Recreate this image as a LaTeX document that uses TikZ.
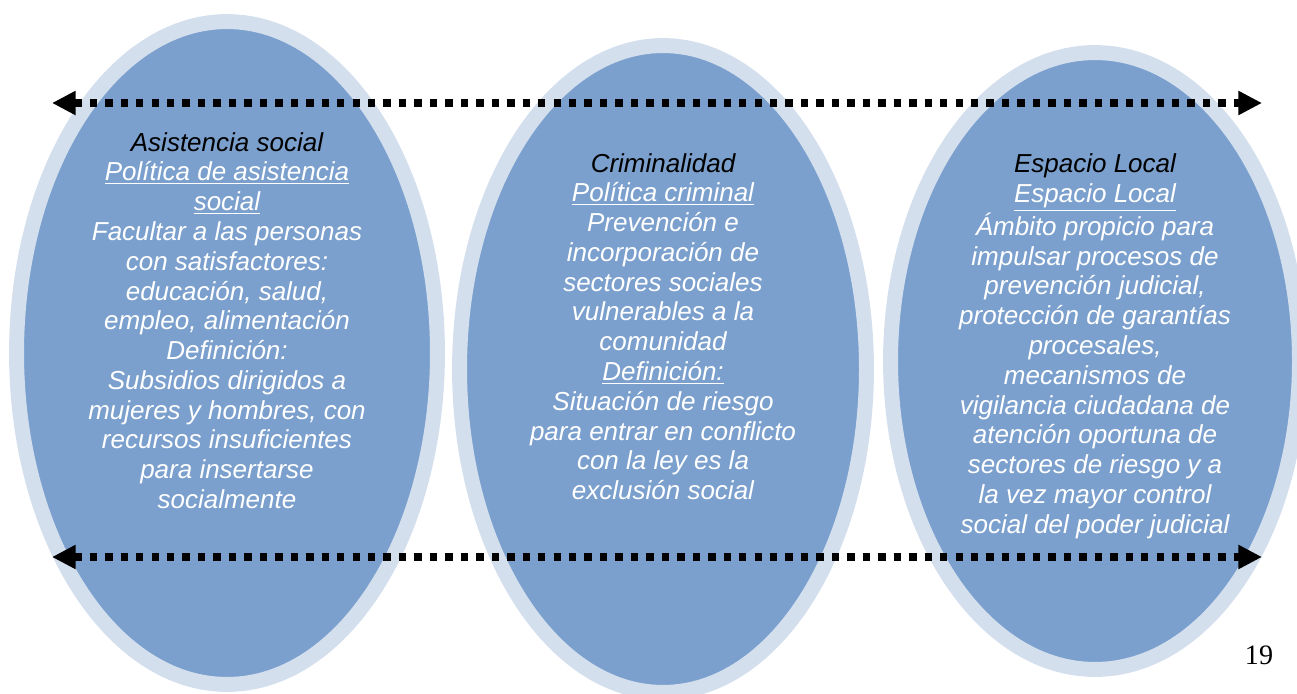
\documentclass[tikz,border=0pt]{standalone}
\usepackage{fontspec}
\setmainfont{Liberation Sans}
\newfontfamily\pagefont{Liberation Serif}
\usetikzlibrary{arrows.meta,shapes.geometric,positioning}
\definecolor{ovalfill}{RGB}{123,160,205}
\definecolor{ovalrim}{RGB}{212,223,238}
\newcommand\ulin[1]{\underline{#1}}
\tikzset{
  oval/.style={ellipse,draw=ovalrim,fill=ovalfill,line width=8.5pt,inner sep=0pt},
  ovaltext/.style={align=center,text=white,font=\fontsize{14.8}{16.95}\selectfont\itshape},
  dotline/.style={{Triangle[length=13.5pt,width=13pt]}-{Triangle[length=13.5pt,width=13pt]},
    line width=4.2pt,dash pattern=on 4.2pt off 4.6pt}
}
\begin{document}
\begin{tikzpicture}[x=0.02cm,y=-0.02cm]
	\useasboundingbox (0,0) rectangle (1297,693);
	
	\node[oval,minimum width=8.42cm,minimum height=13.26cm] (A) at (227,353) {};
	\node[oval,minimum width=8.14cm,minimum height=12.94cm] (C) at (663,369) {};
	\node[oval,minimum width=8.18cm,minimum height=12.34cm] (E) at (1095,361) {};
	
	\node[ovaltext] (At) at ([yshift=0.65cm]A.center) {{\color{black}Asistencia social}\\
		\ulin{Política de asistencia}\\ \ulin{social}\\
		Facultar a las personas\\ con satisfactores:\\ educación, salud,\\
		empleo, alimentación\\ Definición:\\ Subsidios dirigidos a\\
		mujeres y hombres, con\\ recursos insuficientes\\ para insertarse\\ socialmente};
	\node[ovaltext] (Ct) at ([yshift=0.85cm]C.center) {{\color{black}Criminalidad}\\
		\ulin{Política criminal}\\ Prevención e\\ incorporación de\\
		sectores sociales\\ vulnerables a la\\ comunidad\\ \ulin{Definición:}\\
		Situación de riesgo\\ para entrar en conflicto\\ con la ley es la\\ exclusión social};
	\node[ovaltext] (Et) at ([yshift=0.3cm]E.center) {{\color{black}Espacio Local}\\
		\ulin{Espacio Local}\\ Ámbito propicio para\\ impulsar procesos de\\
		prevención judicial,\\ protección de garantías\\ procesales,\\ mecanismos de\\
		vigilancia ciudadana de\\ atención oportuna de\\ sectores de riesgo y a\\
		la vez mayor control\\ social del poder judicial};
	
	\coordinate (TL) at (52,103);
	\coordinate (TR) at (1262,103);
	\coordinate (BL) at (52,557);
	\coordinate (BR) at (1262,557);
	\draw[dotline] (TL) -- (TR);
	\draw[dotline] (BL) -- (BR);
	
	\node[font=\pagefont\fontsize{16}{16}\selectfont] (pg) at (1259,655) {19};
\end{tikzpicture}
\end{document}
